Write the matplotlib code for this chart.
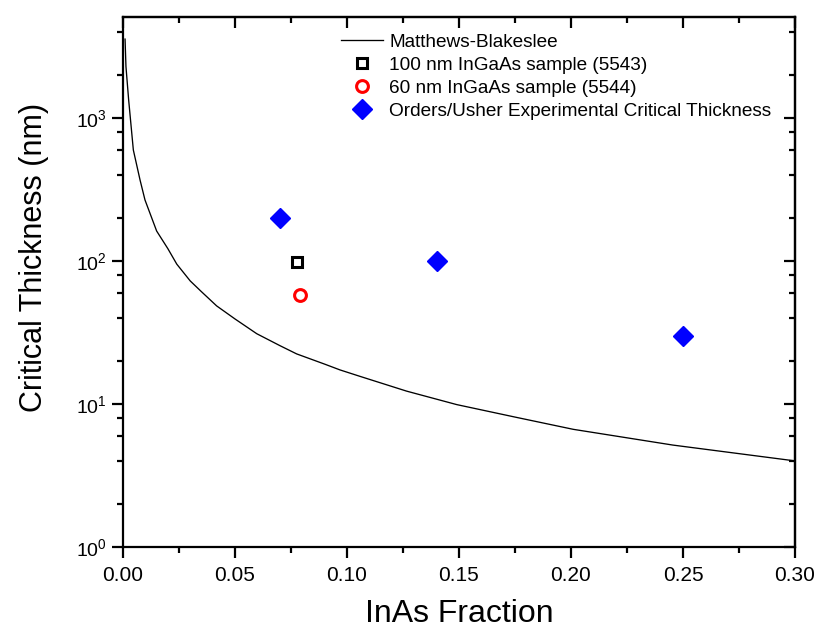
import numpy as np
import matplotlib
matplotlib.use('Agg')
import matplotlib.pyplot as plt
from matplotlib.ticker import MultipleLocator, LogLocator, NullFormatter, FormatStrFormatter

plt.rcParams['font.family'] = ['Liberation Sans', 'DejaVu Sans']
plt.rcParams['mathtext.fontset'] = 'custom'
plt.rcParams['mathtext.rm'] = 'Liberation Sans'

# Matthews-Blakeslee curve
mb_x = [0.0009, 0.0013, 0.0025, 0.0046, 0.0076, 0.0098, 0.015, 0.02, 0.024,
        0.03, 0.035, 0.0418, 0.05, 0.0597, 0.07, 0.0775, 0.09, 0.0969,
        0.1058, 0.1266, 0.149, 0.175, 0.201, 0.2455, 0.3]
mb_y = [3560, 2290, 1340, 597, 368, 267, 162, 122, 95,
        72.5, 61, 48.5, 39.3, 31.0, 25.6, 22.4, 19, 17.3,
        15.6, 12.3, 9.9, 8.1, 6.65, 5.16, 4.0]

# samples
s5543_x = [0.0777]
s5543_y = [98]
s5544_x = [0.079]
s5544_y = [58]

# Orders/Usher experimental
ou_x = [0.07, 0.14, 0.25]
ou_y = [200, 100, 30]

fig = plt.figure(figsize=(8.17, 6.35), dpi=100)
ax = fig.add_axes([0.1506, 0.1386, 0.973 - 0.1506, 0.9732 - 0.1386])

ax.plot(mb_x, mb_y, color='black', lw=0.95, label='Matthews-Blakeslee')
ax.plot(s5543_x, s5543_y, ls='none', marker='s', ms=7, mfc='none', mec='black',
        mew=2.2, label='100 nm InGaAs sample (5543)')
ax.plot(s5544_x, s5544_y, ls='none', marker='o', ms=8.5, mfc='none', mec='red',
        mew=2.2, label='60 nm InGaAs sample (5544)')
ax.plot(ou_x, ou_y, ls='none', marker='D', ms=10, color='blue', mec='blue',
        label='Orders/Usher Experimental Critical Thickness')

ax.set_yscale('log')
ax.set_xlim(0, 0.30)
ax.set_ylim(1, 5080)
ax.xaxis.set_major_locator(MultipleLocator(0.05))
ax.xaxis.set_minor_locator(MultipleLocator(0.025))
ax.xaxis.set_major_formatter(FormatStrFormatter('%.2f'))
ax.yaxis.set_major_locator(LogLocator(base=10, numticks=10))
ax.yaxis.set_minor_locator(LogLocator(base=10, subs=(2, 4, 6, 8), numticks=10))
ax.yaxis.set_minor_formatter(NullFormatter())

for sp in ax.spines.values():
    sp.set_linewidth(1.6)
ax.tick_params(which='major', direction='out', length=8, width=1.6)
ax.tick_params(which='minor', direction='out', length=4.5, width=1.6)
ax.tick_params(axis='x', labelsize=15, pad=6)
ax.tick_params(axis='y', labelsize=14)

# mirrored ticks on top and right, pointing inward
top = ax.secondary_xaxis('top')
top.xaxis.set_major_locator(MultipleLocator(0.05))
top.xaxis.set_minor_locator(MultipleLocator(0.025))
top.tick_params(which='major', direction='in', length=8, width=1.6, labeltop=False)
top.tick_params(which='minor', direction='in', length=4.5, width=1.6, labeltop=False)
top.spines['top'].set_linewidth(1.6)
right = ax.secondary_yaxis('right')
right.yaxis.set_major_locator(LogLocator(base=10, numticks=10))
right.yaxis.set_minor_locator(LogLocator(base=10, subs=(2, 4, 6, 8), numticks=10))
right.tick_params(which='major', direction='in', length=8, width=1.6, labelright=False)
right.tick_params(which='minor', direction='in', length=4.5, width=1.6, labelright=False)
right.spines['right'].set_linewidth(1.6)

ax.set_xlabel('InAs Fraction', fontsize=23)
ax.xaxis.set_label_coords(0.5, -0.098)
ax.set_ylabel('Critical Thickness (nm)', fontsize=22)
ax.yaxis.set_label_coords(-0.11, 0.547)

ax.legend(loc='upper left', bbox_to_anchor=(0.324, 0.969), frameon=False,
          fontsize=13.7, handlelength=2.24, handletextpad=0.3, labelspacing=0.3,
          borderpad=0, borderaxespad=0)

fig.savefig('out.png', dpi=100)
